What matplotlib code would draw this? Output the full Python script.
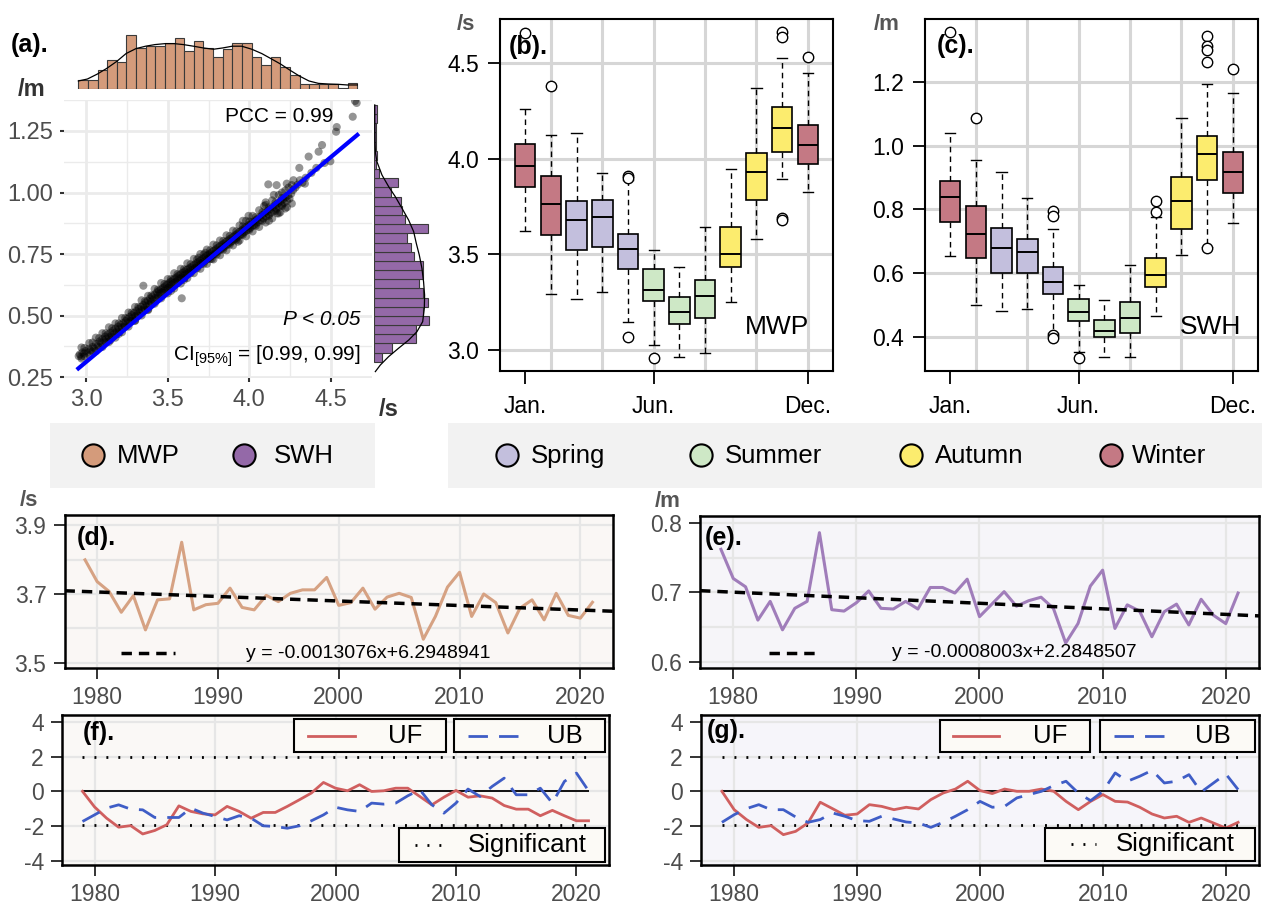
import numpy as np
import matplotlib.pyplot as plt
from matplotlib.patches import Rectangle
from matplotlib.lines import Line2D

plt.rcParams['font.family'] = 'Liberation Sans'
plt.rcParams['mathtext.fontset'] = 'custom'
plt.rcParams['mathtext.rm'] = 'Liberation Sans'
plt.rcParams['mathtext.it'] = 'Liberation Sans:italic'

# ---------------- data ----------------
# (a) monthly MWP (s) vs SWH (m)
scatter_pts = [
    (2.955, 0.335), (2.962, 0.342), (2.970, 0.333), (2.978, 0.350), (2.988, 0.345), (2.998, 0.356),
    (3.008, 0.349), (3.018, 0.365), (3.028, 0.358), (3.040, 0.372), (3.050, 0.366), (3.062, 0.384),
    (3.072, 0.377), (3.083, 0.395), (3.092, 0.388), (3.100, 0.404),
    (3.108, 0.398), (3.116, 0.414), (3.124, 0.405), (3.132, 0.422), (3.140, 0.412), (3.148, 0.430),
    (3.156, 0.420), (3.164, 0.438), (3.172, 0.428), (3.180, 0.447), (3.188, 0.436), (3.196, 0.455),
    (3.204, 0.444), (3.212, 0.462), (3.220, 0.452), (3.228, 0.470), (3.236, 0.460), (3.244, 0.478),
    (3.150, 0.400), (3.200, 0.425),
    (3.252, 0.486), (3.258, 0.472), (3.266, 0.494), (3.272, 0.480), (3.280, 0.502), (3.286, 0.489),
    (3.294, 0.510), (3.300, 0.497), (3.308, 0.518), (3.314, 0.505), (3.322, 0.527), (3.328, 0.513),
    (3.336, 0.535), (3.342, 0.522), (3.350, 0.543), (3.356, 0.530), (3.364, 0.552), (3.370, 0.538),
    (3.378, 0.560), (3.384, 0.547), (3.392, 0.569), (3.398, 0.556), (3.406, 0.577), (3.412, 0.564),
    (3.420, 0.585), (3.426, 0.572), (3.434, 0.594), (3.440, 0.580), (3.446, 0.600), (3.351, 0.621),
    (3.300, 0.480), (3.380, 0.525),
    (3.452, 0.588), (3.458, 0.606), (3.464, 0.594), (3.470, 0.612), (3.476, 0.600), (3.482, 0.618),
    (3.488, 0.606), (3.494, 0.625), (3.500, 0.612), (3.506, 0.631), (3.512, 0.618), (3.518, 0.637),
    (3.524, 0.625), (3.530, 0.643), (3.536, 0.631), (3.542, 0.650), (3.548, 0.637), (3.554, 0.655),
    (3.560, 0.643), (3.566, 0.662), (3.572, 0.649), (3.578, 0.667), (3.584, 0.655), (3.590, 0.673),
    (3.596, 0.661), (3.602, 0.679), (3.608, 0.667), (3.614, 0.685), (3.620, 0.672), (3.626, 0.690),
    (3.632, 0.678), (3.638, 0.695), (3.644, 0.684), (3.586, 0.570), (3.520, 0.600), (3.600, 0.645),
    (3.650, 0.700), (3.656, 0.688), (3.662, 0.706), (3.668, 0.694), (3.674, 0.712), (3.680, 0.700),
    (3.686, 0.717), (3.692, 0.705), (3.698, 0.723), (3.704, 0.711), (3.710, 0.729), (3.716, 0.717),
    (3.722, 0.735), (3.728, 0.722), (3.734, 0.741), (3.740, 0.728), (3.746, 0.746), (3.752, 0.734),
    (3.758, 0.752), (3.764, 0.740), (3.770, 0.758), (3.776, 0.745), (3.782, 0.763), (3.788, 0.751),
    (3.794, 0.769), (3.800, 0.757), (3.806, 0.775), (3.812, 0.763), (3.818, 0.781), (3.824, 0.768),
    (3.830, 0.787), (3.836, 0.774), (3.842, 0.792), (3.690, 0.735), (3.770, 0.730), (3.730, 0.755),
    (3.848, 0.780), (3.854, 0.798), (3.860, 0.786), (3.866, 0.804), (3.872, 0.792), (3.878, 0.810),
    (3.884, 0.797), (3.890, 0.815), (3.896, 0.803), (3.902, 0.821), (3.908, 0.809), (3.914, 0.827),
    (3.920, 0.815), (3.926, 0.833), (3.932, 0.821), (3.938, 0.839), (3.944, 0.827), (3.950, 0.845),
    (3.956, 0.832), (3.962, 0.851), (3.968, 0.838), (3.974, 0.857), (3.980, 0.844), (3.986, 0.862),
    (3.992, 0.850), (3.998, 0.868), (4.004, 0.856), (4.010, 0.874), (4.016, 0.862), (4.022, 0.880),
    (4.028, 0.867), (4.034, 0.886), (4.040, 0.873), (4.046, 0.891), (3.960, 0.885), (3.995, 0.905),
    (3.930, 0.800),
    (4.054, 0.880), (4.062, 0.900), (4.070, 0.888), (4.078, 0.908), (4.086, 0.895), (4.094, 0.916),
    (4.102, 0.903), (4.110, 0.924), (4.118, 0.910), (4.126, 0.932), (4.134, 0.918), (4.142, 0.940),
    (4.150, 0.926), (4.158, 0.948), (4.166, 0.934), (4.174, 0.956), (4.182, 0.942), (4.190, 0.964),
    (4.198, 0.950), (4.206, 0.972), (4.214, 0.958), (4.222, 0.980), (4.230, 0.966), (4.238, 0.988),
    (4.246, 0.975), (4.120, 0.885), (4.170, 0.915), (4.090, 0.945), (4.150, 0.990), (4.200, 1.000),
    (4.240, 1.020), (4.116, 1.033), (4.167, 1.030), (4.229, 1.036), (4.270, 1.050), (4.340, 1.036),
    (4.100, 0.960), (4.190, 0.920), (4.230, 0.940),
    (4.256, 0.995), (4.268, 1.010), (4.282, 1.020), (4.296, 1.032), (4.310, 1.050), (4.306, 1.100),
    (4.325, 1.040), (4.345, 1.060), (4.363, 1.146), (4.380, 1.080), (4.410, 1.100), (4.424, 1.166),
    (4.445, 1.193), (4.460, 1.120), (4.496, 1.127), (4.531, 1.247), (4.535, 1.266), (4.633, 1.308),
    (4.647, 1.372), (4.657, 1.364),
    # outer edges of the cloud
    (2.972, 0.370), (2.972, 0.325), (3.020, 0.388), (3.020, 0.338), (3.060, 0.410), (3.060, 0.355),
    (3.100, 0.428), (3.100, 0.372), (3.140, 0.452), (3.140, 0.392), (3.180, 0.468), (3.180, 0.410),
    (3.220, 0.490), (3.220, 0.432), (3.260, 0.512), (3.260, 0.455), (3.300, 0.535), (3.300, 0.478),
    (3.340, 0.562), (3.340, 0.500), (3.380, 0.580), (3.380, 0.522), (3.420, 0.608), (3.420, 0.548),
    (3.460, 0.632), (3.460, 0.570), (3.500, 0.648), (3.500, 0.590), (3.540, 0.672), (3.540, 0.610),
    (3.580, 0.690), (3.580, 0.630), (3.620, 0.712), (3.620, 0.652), (3.660, 0.730), (3.660, 0.672),
    (3.700, 0.750), (3.700, 0.690), (3.740, 0.768), (3.740, 0.710), (3.780, 0.788), (3.780, 0.728),
    (3.820, 0.805), (3.820, 0.745), (3.860, 0.826), (3.860, 0.765), (3.900, 0.845), (3.900, 0.785),
    (3.940, 0.866), (3.940, 0.805), (3.980, 0.885), (3.980, 0.822), (4.020, 0.905), (4.020, 0.842),
    (4.060, 0.928), (4.060, 0.860), (4.100, 0.950), (4.100, 0.878), (4.140, 0.968), (4.140, 0.895),
    (4.180, 0.990), (4.180, 0.915), (4.220, 1.008), (4.220, 0.935), (4.260, 1.030), (4.260, 0.955),
    (2.990, 0.368), (2.990, 0.335), (3.040, 0.390), (3.040, 0.355), (3.080, 0.408), (3.080, 0.372),
    (3.120, 0.428), (3.120, 0.392), (3.160, 0.448), (3.160, 0.412), (3.200, 0.468), (3.200, 0.432),
    (3.240, 0.490), (3.240, 0.455), (3.280, 0.512), (3.280, 0.478), (3.320, 0.535), (3.320, 0.500),
    (3.360, 0.558), (3.360, 0.522), (3.400, 0.582), (3.400, 0.548), (3.440, 0.605), (3.440, 0.570),
    (3.480, 0.628), (3.480, 0.592), (3.520, 0.648), (3.520, 0.612), (3.560, 0.668), (3.560, 0.632),
    (3.600, 0.688), (3.600, 0.652), (3.640, 0.708), (3.640, 0.672), (3.680, 0.728), (3.680, 0.692),
    (3.720, 0.748), (3.720, 0.710), (3.760, 0.765), (3.760, 0.730), (3.800, 0.785), (3.800, 0.748),
    (3.840, 0.803), (3.840, 0.768), (3.880, 0.823), (3.880, 0.788), (3.920, 0.842), (3.920, 0.808),
    (3.960, 0.862), (3.960, 0.828), (4.000, 0.882), (4.000, 0.848), (4.040, 0.900), (4.040, 0.865),
    (4.080, 0.920), (4.080, 0.885), (4.120, 0.940), (4.120, 0.905), (4.160, 0.960), (4.160, 0.925),
    (4.200, 0.978), (4.200, 0.945),
]
fit_x = [2.953, 4.661]
fit_y = [0.285, 1.234]

# marginal histograms (counts)
mwp_hist = [6, 6, 12, 18, 17, 34, 26, 27, 27, 29, 32, 24, 30, 26, 20, 25, 29, 29, 20, 15, 20, 14, 9, 3, 3, 3, 3, 1, 4]
mwp_bin_start, mwp_bin_w = 2.953, 0.0589
mwp_kde_x = [2.953, 3.008, 3.069, 3.126, 3.188, 3.245, 3.306, 3.365, 3.422, 3.484, 3.539, 3.596, 3.657, 3.718,
             3.780, 3.837, 3.896, 3.953, 4.015, 4.076, 4.131, 4.192, 4.249, 4.306, 4.365, 4.423, 4.484, 4.545,
             4.600, 4.661]
mwp_kde_c = [5.2, 6.4, 9.5, 13.0, 17.4, 22.3, 25.4, 26.9, 27.9, 28.5, 28.5, 27.9, 26.9, 25.8, 25.0, 25.8, 26.9,
             26.9, 25.0, 22.3, 19.2, 15.7, 11.9, 8.3, 5.2, 3.7, 3.3, 3.1, 2.7, 2.7]
swh_hist = [5, 12, 28, 28, 37, 33, 36, 33, 30, 33, 33, 27, 25, 22, 36, 21, 19, 18, 11, 16, 3, 1, 2, 1, 1, 1, 2, 2]
swh_bin_start, swh_bin_w = 0.312, 0.03729
swh_kde_y = [1.356, 1.30, 1.25, 1.20, 1.16, 1.125, 1.071, 1.024, 0.983, 0.936, 0.888, 0.841, 0.793, 0.746, 0.692,
             0.637, 0.583, 0.529, 0.475, 0.434, 0.400, 0.367, 0.333, 0.299, 0.272]
swh_kde_c = [0.3, 0.3, 0.4, 0.5, 0.8, 1.8, 5.2, 9.7, 14.2, 18.7, 23.2, 26.6, 28.4, 30.4, 32.2, 33.3, 34.0, 33.8,
             32.7, 28.8, 23.2, 16.4, 9.7, 4.1, 0.7]

# (b)/(c) monthly box statistics
months = list(range(1, 13))
month_season = ['Winter', 'Winter', 'Spring', 'Spring', 'Spring', 'Summer', 'Summer', 'Summer',
                'Autumn', 'Autumn', 'Autumn', 'Winter']
mwp_med = [3.965, 3.764, 3.678, 3.698, 3.527, 3.314, 3.199, 3.282, 3.502, 3.930, 4.163, 4.074]
mwp_q1 = [3.855, 3.603, 3.523, 3.541, 3.422, 3.255, 3.136, 3.166, 3.433, 3.785, 4.034, 3.973]
mwp_q3 = [4.078, 3.910, 3.781, 3.785, 3.607, 3.424, 3.279, 3.364, 3.642, 4.033, 4.270, 4.176]
mwp_lo = [3.621, 3.291, 3.265, 3.305, 3.148, 3.026, 2.962, 2.986, 3.249, 3.581, 3.895, 3.825]
mwp_hi = [4.259, 4.125, 4.134, 3.924, 3.890, 3.523, 3.433, 3.644, 3.947, 4.369, 4.530, 4.448]
mwp_out = [[4.66], [4.381], [], [], [3.912, 3.902, 3.066], [2.956], [], [], [], [],
           [4.664, 4.640, 3.690, 3.680], [4.535]]
swh_med = [0.838, 0.723, 0.678, 0.667, 0.573, 0.476, 0.419, 0.458, 0.594, 0.827, 0.975, 0.916]
swh_q1 = [0.760, 0.646, 0.601, 0.599, 0.534, 0.449, 0.398, 0.410, 0.555, 0.738, 0.893, 0.851]
swh_q3 = [0.888, 0.812, 0.741, 0.707, 0.618, 0.518, 0.452, 0.510, 0.646, 0.901, 1.029, 0.980]
swh_lo = [0.652, 0.500, 0.482, 0.487, 0.410, 0.353, 0.335, 0.335, 0.466, 0.657, 0.683, 0.756]
swh_hi = [1.040, 0.956, 0.917, 0.835, 0.738, 0.563, 0.515, 0.625, 0.775, 1.087, 1.194, 1.165]
swh_out = [[1.357], [1.087], [], [], [0.795, 0.780, 0.405, 0.395], [0.332], [], [], [0.825, 0.791], [],
           [1.344, 1.312, 1.302, 1.262, 0.678], [1.241]]

# (d)-(g) annual series
years = list(range(1979, 2022))
mwp_year = [3.799, 3.736, 3.707, 3.647, 3.695, 3.596, 3.683, 3.686, 3.850, 3.654, 3.669, 3.673, 3.717, 3.661,
            3.654, 3.696, 3.678, 3.702, 3.712, 3.712, 3.748, 3.667, 3.675, 3.717, 3.656, 3.691, 3.702, 3.690,
            3.569, 3.635, 3.720, 3.763, 3.635, 3.700, 3.675, 3.587, 3.659, 3.683, 3.625, 3.702, 3.638, 3.630, 3.676]
swh_year = [0.762, 0.720, 0.708, 0.660, 0.687, 0.646, 0.677, 0.687, 0.786, 0.675, 0.673, 0.685, 0.702, 0.677,
            0.676, 0.687, 0.676, 0.707, 0.707, 0.699, 0.719, 0.665, 0.683, 0.701, 0.680, 0.688, 0.693, 0.677,
            0.627, 0.655, 0.709, 0.732, 0.648, 0.682, 0.673, 0.636, 0.672, 0.683, 0.653, 0.690, 0.667, 0.655, 0.699]
mwp_trend = (-0.0013076, 6.2948941)
swh_trend = (-0.0008003, 2.2848507)

mwp_uf = [0.0, -0.90, -1.55, -2.07, -1.98, -2.46, -2.26, -1.93, -0.84, -1.16, -1.30, -1.36, -0.87, -1.16, -1.55,
          -1.22, -1.22, -0.87, -0.49, -0.10, 0.51, 0.18, 0.03, 0.38, -0.01, 0.03, 0.18, 0.18, -0.30, -0.78,
          -0.34, 0.05, -0.34, -0.26, -0.39, -0.82, -1.03, -1.03, -1.41, -1.10, -1.41, -1.70, -1.70]
mwp_ub = [-1.74, -1.36, -0.97, -0.78, -1.03, -1.07, -1.51, -1.51, -1.51, -0.97, -1.26, -1.45, -1.65, -1.41, -1.55,
          -1.99, -2.03, -2.13, -1.99, -1.70, -1.36, -0.92, -1.07, -1.16, -0.68, -0.74, -0.68, -0.26, 0.09, -0.78,
          -1.26, -0.68, 0.13, -0.30, 0.28, 0.76, -0.20, -0.20, 0.18, -0.68, 0.57, 1.05, 0.03]
swh_uf = [0.0, -1.06, -1.63, -2.08, -1.98, -2.50, -2.31, -1.83, -0.63, -1.00, -1.38, -1.31, -0.77, -0.87, -1.06,
          -0.92, -1.02, -0.48, -0.10, 0.13, 0.58, 0.04, -0.13, 0.13, 0.0, 0.0, 0.13, 0.0, -0.58, -1.06,
          -0.58, -0.19, -0.58, -0.62, -0.92, -1.31, -1.54, -1.44, -1.79, -1.54, -1.83, -2.12, -1.79]
swh_ub = [-1.79, -1.35, -1.00, -0.77, -1.06, -1.06, -1.48, -1.79, -1.63, -1.25, -1.44, -1.69, -1.73, -1.44, -1.60,
          -1.77, -1.83, -2.08, -1.79, -1.44, -1.06, -0.58, -0.92, -0.87, -0.38, -0.19, 0.0, 0.33, 0.58, -0.10,
          -0.54, 0.0, 1.06, 0.58, 0.87, 1.21, 0.48, 0.58, 0.96, -0.04, 0.48, 1.00, 0.10]
sig_level = 1.96

season_names = ['Spring', 'Summer', 'Autumn', 'Winter']
season_colors = {'Spring': '#C3BFDD', 'Summer': '#CEE8C6', 'Autumn': '#FCEC6E', 'Winter': '#C47984'}
var_names = ['MWP', 'SWH']
var_colors = ['#D49B7B', '#9469A8']
mk_names = ['UF', 'UB', 'Significant']

# ---------------- figure ----------------
W, H = 1264, 905
fig = plt.figure(figsize=(W / 100, H / 100), dpi=100)


def px_axes(l, t, r, b):
    return fig.add_axes([l / W, 1 - b / H, (r - l) / W, (b - t) / H])


GRAY = '#4D4D4D'

# ---- (a) scatter with marginal histograms ----
ax_a = px_axes(64, 100, 372, 378)
sx = [p[0] for p in scatter_pts]
sy = [p[1] for p in scatter_pts]
ax_a.scatter(sx, sy, s=34, color='black', alpha=0.42, edgecolors='none', zorder=3)
ax_a.plot(fit_x, fit_y, color='#0000FF', lw=3, zorder=4)
ax_a.set_xlim(2.865, 4.751)
ax_a.set_ylim(0.246, 1.376)
ax_a.set_xticks([3.0, 3.5, 4.0, 4.5])
ax_a.set_xticks([3.25, 3.75, 4.25], minor=True)
ax_a.set_yticks([0.25, 0.5, 0.75, 1.0, 1.25])
ax_a.set_yticklabels(['0.25', '0.50', '0.75', '1.00', '1.25'])
ax_a.set_yticks([0.375, 0.625, 0.875, 1.125, 1.375], minor=True)
ax_a.grid(which='major', color='#EBEBEB', lw=2, zorder=0)
ax_a.grid(which='minor', color='#EBEBEB', lw=1, zorder=0)
ax_a.set_axisbelow(True)
for s in ax_a.spines.values():
    s.set_visible(False)
ax_a.tick_params(which='major', labelsize=17, labelcolor=GRAY, color='#333333', length=3, width=1.5, pad=5)
ax_a.tick_params(which='minor', length=0)
ax_a.text(0.873, 0.939, 'PCC = 0.99', transform=ax_a.transAxes, ha='right', va='center', fontsize=15)
ax_a.text(0.964, 0.212, 'P < 0.05', transform=ax_a.transAxes, ha='right', va='center', fontsize=15,
          style='italic')
ax_a.text(0.964, 0.080, r'CI$_{[95\%]}$ = [0.99, 0.99]', transform=ax_a.transAxes, ha='right',
          va='center', fontsize=15)
fig.text(30 / W, 1 - 45 / H, '(a).', fontsize=18, fontweight='bold', ha='center', va='center')
fig.text(32 / W, 1 - 90 / H, '/m', fontsize=17, fontweight='bold', color='#333333', ha='center', va='center')
fig.text(389 / W, 1 - 409 / H, '/s', fontsize=17, fontweight='bold', color='#333333', ha='center', va='center')

ax_top = px_axes(64, 30, 372, 89.3)
edges = mwp_bin_start + mwp_bin_w * np.arange(len(mwp_hist))
ax_top.bar(edges, mwp_hist, width=mwp_bin_w, align='edge', color=var_colors[0], edgecolor='#3a3a3a', lw=0.8)
ax_top.plot(mwp_kde_x, mwp_kde_c, color='black', lw=0.9)
ax_top.set_xlim(2.865, 4.751)
ax_top.set_ylim(0, 37)
ax_top.axis('off')

ax_rt = px_axes(374.3, 100, 432, 378)
edges = swh_bin_start + swh_bin_w * np.arange(len(swh_hist))
ax_rt.barh(edges, swh_hist, height=swh_bin_w, align='edge', color=var_colors[1], edgecolor='#3a3a3a', lw=0.8)
ax_rt.plot(swh_kde_c, swh_kde_y, color='black', lw=0.9)
ax_rt.set_ylim(0.246, 1.376)
ax_rt.set_xlim(0, 39)
ax_rt.axis('off')


# ---- (b)/(c) monthly boxplots ----
def box_panel(ax, med, q1, q3, lo, hi, out, ylim, yticks, ylabels):
    stats = [dict(med=med[i], q1=q1[i], q3=q3[i], whislo=lo[i], whishi=hi[i], fliers=out[i])
             for i in range(12)]
    for g in range(2, 13, 2):
        ax.axvline(g, color='#D6D6D6', lw=2.2, zorder=0)
    for g in yticks:
        ax.axhline(g, color='#D6D6D6', lw=2.2, zorder=0)
    bp = ax.bxp(stats, positions=months, widths=0.8, patch_artist=True,
                boxprops=dict(edgecolor='black', lw=1.2),
                medianprops=dict(color='black', lw=1.4),
                whiskerprops=dict(color='black', lw=1.0, ls=(0, (4, 3))),
                capprops=dict(color='black', lw=1.0),
                flierprops=dict(marker='o', mfc='white', mec='black', ms=7.5, mew=1.0))
    for patch, s in zip(bp['boxes'], month_season):
        patch.set_facecolor(season_colors[s])
    ax.set_xlim(0.02, 12.98)
    ax.set_ylim(*ylim)
    ax.set_xticks([1, 6, 12])
    ax.set_xticklabels(['Jan.', 'Jun.', 'Dec.'])
    ax.set_yticks(yticks)
    ax.set_yticklabels(ylabels)
    for s in ax.spines.values():
        s.set_linewidth(1.5)
    ax.tick_params(axis='both', labelsize=16.5, length=9, width=1.3, direction='out')
    ax.tick_params(axis='x', pad=8)
    ax.tick_params(axis='y', pad=6)


ax_b = px_axes(500, 19, 833, 371)
box_panel(ax_b, mwp_med, mwp_q1, mwp_q3, mwp_lo, mwp_hi, mwp_out, (2.89, 4.732),
          [3.0, 3.5, 4.0, 4.5], ['3.0', '3.5', '4.0', '4.5'])
ax_b.text(0.027, 0.921, '(b).', transform=ax_b.transAxes, fontsize=18, fontweight='bold', va='center', zorder=10)
ax_b.text(0.833, 0.126, 'MWP', transform=ax_b.transAxes, fontsize=19, ha='center', va='center')
fig.text(466 / W, 1 - 25 / H, '/s', fontsize=16, fontweight='bold', color='#555555', ha='center', va='center')

ax_c = px_axes(925, 19, 1258, 371)
box_panel(ax_c, swh_med, swh_q1, swh_q3, swh_lo, swh_hi, swh_out, (0.292, 1.398),
          [0.4, 0.6, 0.8, 1.0, 1.2], ['0.4', '0.6', '0.8', '1.0', '1.2'])
ax_c.text(0.035, 0.923, '(c).', transform=ax_c.transAxes, fontsize=18, fontweight='bold', va='center', zorder=10)
ax_c.text(0.856, 0.126, 'SWH', transform=ax_c.transAxes, fontsize=19, ha='center', va='center')
fig.text(887 / W, 1 - 24 / H, '/m', fontsize=16, fontweight='bold', color='#555555', ha='center', va='center')

# ---- legend strips ----
leg1 = px_axes(50, 423, 375, 488)
leg1.set_facecolor('#F2F2F2')
leg1.set_xticks([])
leg1.set_yticks([])
for s in leg1.spines.values():
    s.set_visible(False)
for name, col, mx, tx in zip(var_names, var_colors, [0.132, 0.597], [0.206, 0.689]):
    leg1.plot([mx], [0.5], 'o', ms=16, mfc=col, mec='black', mew=1.5, transform=leg1.transAxes)
    leg1.text(tx, 0.5, name, fontsize=18.5, va='center', ha='left', transform=leg1.transAxes)

leg2 = px_axes(448, 423, 1262, 488)
leg2.set_facecolor('#F2F2F2')
leg2.set_xticks([])
leg2.set_yticks([])
for s in leg2.spines.values():
    s.set_visible(False)
for name, mx, tx in zip(season_names, [0.0725, 0.311, 0.569, 0.8145], [0.102, 0.340, 0.598, 0.840]):
    leg2.plot([mx], [0.5], 'o', ms=16, mfc=season_colors[name], mec='black', mew=1.5,
              transform=leg2.transAxes)
    leg2.text(tx, 0.5, name, fontsize=18.5, va='center', ha='left', transform=leg2.transAxes)

# ---- (d)-(g) annual series ----
decades = [1980, 1990, 2000, 2010, 2020]


def ts_style(ax, bg, ylim, yticks, ylabels, ygrid):
    ax.set_facecolor(bg)
    ax.set_xlim(1977.3, 2022.7)
    ax.set_ylim(*ylim)
    for g in ygrid:
        ax.axhline(g, color='#E6E6E6', lw=1.6, zorder=0)
    for d in decades:
        ax.axvline(d, color='#E6E6E6', lw=1.6, zorder=0)
    ax.set_xticks(decades)
    ax.set_yticks(yticks)
    ax.set_yticklabels(ylabels)
    for s in ax.spines.values():
        s.set_linewidth(1.8)
    ax.tick_params(labelsize=16.5, labelcolor=GRAY, color='#333333', length=8, width=1.4, pad=5)


ax_d = px_axes(64.5, 515, 613, 668)
ts_style(ax_d, '#FAF7F5', (3.4855, 3.929), [3.5, 3.7, 3.9], ['3.5', '3.7', '3.9'], [3.5, 3.6, 3.7, 3.8, 3.9])
ax_d.plot(years, mwp_year, color='#D6A283', lw=2.2, zorder=3)
ax_d.axline((0, mwp_trend[1]), slope=mwp_trend[0], color='black', lw=2.5, ls=(0, (3, 2)), zorder=4)
ax_d.plot([0.103, 0.202], [0.098, 0.098], color='black', lw=2.5, ls=(0, (3, 2)), transform=ax_d.transAxes)
ax_d.text(0.331, 0.098, 'y = %.7fx+%.7f' % mwp_trend, fontsize=14, va='center', transform=ax_d.transAxes)
ax_d.text(0.022, 0.85, '(d).', fontsize=18, fontweight='bold', va='center', transform=ax_d.transAxes)
fig.text(29 / W, 1 - 500 / H, '/s', fontsize=16, fontweight='bold', color='#555555', ha='center', va='center')

ax_e = px_axes(700, 516, 1259, 668)
ts_style(ax_e, '#F6F5F9', (0.591, 0.810), [0.6, 0.7, 0.8], ['0.6', '0.7', '0.8'], [0.6, 0.65, 0.7, 0.75, 0.8])
ax_e.plot(years, swh_year, color='#A07DBA', lw=2.2, zorder=3)
ax_e.axline((0, swh_trend[1]), slope=swh_trend[0], color='black', lw=2.5, ls=(0, (3, 2)), zorder=4)
ax_e.plot([0.123, 0.217], [0.099, 0.099], color='black', lw=2.5, ls=(0, (3, 2)), transform=ax_e.transAxes)
ax_e.text(0.343, 0.099, 'y = %.7fx+%.7f' % swh_trend, fontsize=14, va='center', transform=ax_e.transAxes)
ax_e.text(0.008, 0.855, '(e).', fontsize=18, fontweight='bold', va='center', transform=ax_e.transAxes)
fig.text(668 / W, 1 - 501 / H, '/m', fontsize=16, fontweight='bold', color='#555555', ha='center', va='center')

UF_COL, UB_COL = '#D05F5F', '#3F5DC6'
DOT = (0, (0.7, 3.6))
UBDASH = (0, (7, 4))


def mk_panel(ax, bg, uf, ub, label, lx, ly, boxes):
    ts_style(ax, bg, (-4.25, 4.4), [-4, -2, 0, 2, 4], ['-4', '-2', '0', '2', '4'], [-4, -2, 0, 2, 4])
    ax.hlines(0, years[0], years[-1], color='black', lw=1.3, zorder=2)
    ax.hlines([sig_level, -sig_level], years[0], years[-1], color='black', lw=2, ls=DOT, zorder=2)
    ax.plot(years, uf, color=UF_COL, lw=2, zorder=3)
    ax.plot(years, ub, color=UB_COL, lw=2, ls=UBDASH, zorder=3)
    ax.text(lx, ly, label, fontsize=18, fontweight='bold', va='center', transform=ax.transAxes)
    styles = [dict(color=UF_COL, lw=2), dict(color=UB_COL, lw=2, ls=UBDASH), dict(color='black', lw=2, ls=DOT)]
    for name, st, (x0, x1, y0, y1, s0, s1, tx, ha) in zip(mk_names, styles, boxes):
        ax.add_patch(Rectangle((x0, y0), x1 - x0, y1 - y0, transform=ax.transAxes, facecolor='#FCFAF6',
                               edgecolor='black', lw=1.5, zorder=6))
        yc = (y0 + y1) / 2
        ax.add_line(Line2D([s0, s1], [yc, yc], transform=ax.transAxes, zorder=7, **st))
        ax.text(tx, yc, name, fontsize=18.5, ha=ha, va='center', transform=ax.transAxes, zorder=7)


ax_f = px_axes(62, 715, 609, 865)
mk_panel(ax_f, '#FAF8F6', mwp_uf, mwp_ub, '(f).', 0.038, 0.88,
         [(0.424, 0.702, 0.753, 0.973, 0.450, 0.536, 0.627, 'center'),
          (0.717, 0.993, 0.753, 0.973, 0.742, 0.845, 0.920, 'center'),
          (0.616, 0.993, 0.020, 0.247, 0.645, 0.698, 0.742, 'left')])

ax_g = px_axes(701, 715, 1259, 865)
mk_panel(ax_g, '#F6F5FA', swh_uf, swh_ub, '(g).', 0.010, 0.893,
         [(0.428, 0.697, 0.753, 0.967, 0.452, 0.534, 0.625, 'center'),
          (0.715, 0.993, 0.753, 0.967, 0.740, 0.837, 0.918, 'center'),
          (0.616, 0.993, 0.027, 0.247, 0.663, 0.708, 0.744, 'left')])

fig.savefig('out.png', dpi=100)
